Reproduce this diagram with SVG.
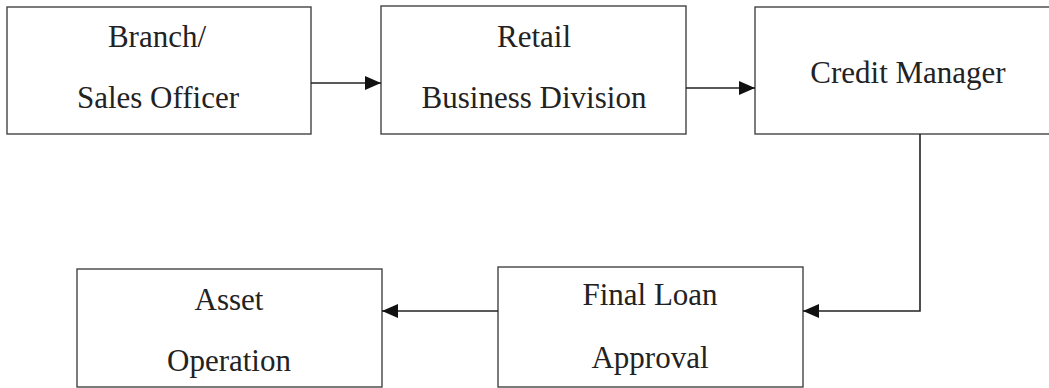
<svg xmlns="http://www.w3.org/2000/svg" width="1049" height="388" viewBox="0 0 1049 388">
<style>
.box{fill:#fff;stroke:#444;stroke-width:1.4}
.t{font-family:"Liberation Serif","Times New Roman",serif;font-size:31px;fill:#222;text-anchor:middle}
.c{fill:none;stroke:#222;stroke-width:1.6}
</style>
<defs>
<marker id="ah" markerWidth="16" markerHeight="14" refX="16" refY="7" orient="auto" markerUnits="userSpaceOnUse">
<path d="M0,0 L16,7 L0,14 Z" fill="#111"/>
</marker>
</defs>
<rect width="1049" height="388" fill="#fff"/>
<g id="n1"><rect class="box" x="7" y="7" width="304" height="127"/><text class="t" x="157" y="47">Branch/</text><text class="t" x="158" y="108">Sales Officer</text></g>
<g id="n2"><rect class="box" x="381" y="6" width="305" height="128"/><text class="t" x="534" y="47">Retail</text><text class="t" x="534" y="108">Business Division</text></g>
<g id="n3"><rect class="box" x="755" y="7" width="306" height="127"/><text class="t" x="908" y="83">Credit Manager</text></g>
<g id="n4"><rect class="box" x="498" y="267" width="305" height="120"/><text class="t" x="650" y="305">Final Loan</text><text class="t" x="650" y="368">Approval</text></g>
<g id="n5"><rect class="box" x="77" y="269" width="305" height="118"/><text class="t" x="229" y="310">Asset</text><text class="t" x="229" y="371">Operation</text></g>
<g id="connectors">
<path class="c" d="M311,83 H381" marker-end="url(#ah)"/>
<path class="c" d="M686,88 H755" marker-end="url(#ah)"/>
<path class="c" d="M920,134 V311 H803" marker-end="url(#ah)"/>
<path class="c" d="M498,311 H382" marker-end="url(#ah)"/>
</g>
</svg>
